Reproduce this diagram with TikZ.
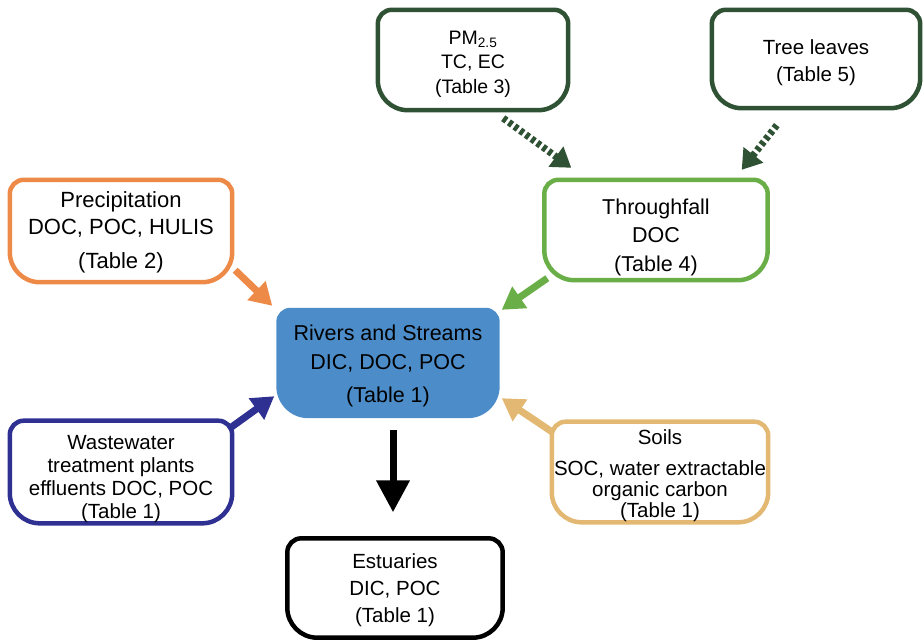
\documentclass[tikz,border=0pt]{standalone}
\usepackage{fontspec}
\setmainfont{Liberation Sans}
\usetikzlibrary{arrows.meta,backgrounds}

\definecolor{leafgreen}{RGB}{47,82,52}
\definecolor{preccol}{RGB}{238,138,72}
\definecolor{thrcol}{RGB}{106,174,71}
\definecolor{rivercol}{RGB}{76,141,201}
\definecolor{wastecol}{RGB}{46,49,146}
\definecolor{soilcol}{RGB}{226,184,114}

\begin{document}
\begin{tikzpicture}[x=1pt, y=1pt,
  box/.style={align=center, inner sep=0pt, font=\fontsize{20.5}{27}\selectfont},
  boxline/.style={line width=4.5pt},
  feed/.style={line width=7pt, -{Triangle[width=25pt,length=22pt]}},
  dashfeed/.style={line width=7pt, dash pattern=on 4pt off 3pt, -{Triangle[width=24pt,length=19pt]}},
  outflow/.style={line width=7pt, -{Triangle[width=32pt,length=32pt]}}]
  \useasboundingbox (0,0) rectangle (923,-642);

  % sources and sinks
  \node[box, minimum width=190pt, minimum height=100pt, font=\fontsize{19.5}{24.5}\selectfont] (pm) at (473,-60) {\rule{0pt}{22pt}PM\textsubscript{2.5}\\TC, EC\\(Table 3)};
  \node[box, minimum width=208pt, minimum height=98pt] (tree) at (816,-59) {\rule{0pt}{23pt}Tree leaves\\(Table 5)};
  \node[box, minimum width=222pt, minimum height=102pt, font=\fontsize{22}{27}\selectfont] (prec) at (121,-231) {\rule{0pt}{18pt}Precipitation\\DOC, POC, HULIS\\[7pt](Table 2)};
  \node[box, minimum width=223pt, minimum height=100pt, font=\fontsize{21.5}{28.5}\selectfont] (thr) at (656,-230) {\rule{0pt}{29.5pt}Throughfall\\DOC\\(Table 4)};
  \node[box, minimum width=223pt, minimum height=110pt, font=\fontsize{21.5}{29}\selectfont] (river) at (388,-363) {\rule{0pt}{21.5pt}Rivers and Streams\\DIC, DOC, POC\\[4pt](Table 1)};
  \node[box, minimum width=222pt, minimum height=101pt, font=\fontsize{20.5}{23}\selectfont] (waste) at (121,-472) {\rule{0pt}{29pt}Wastewater\\treatment plants\\effluents DOC, POC\\(Table 1)};
  \node[box, minimum width=216pt, minimum height=100pt, font=\fontsize{20.5}{21}\selectfont] (soils) at (660,-472) {\rule{0pt}{23pt}Soils\\[10pt]SOC, water extractable\\organic carbon\\(Table 1)};
  \node[box, minimum width=215pt, minimum height=99pt] (est) at (395,-588) {\rule{0pt}{19pt}Estuaries\\DIC, POC\\(Table 1)};

  % box outlines
  \begin{scope}[on background layer]
    \foreach \n/\c in {pm/leafgreen, tree/leafgreen, prec/preccol, thr/thrcol, waste/wastecol, soils/soilcol, est/black}
      \draw[boxline, \c] (\n.north) [rounded corners=14pt] -- (\n.north east) [rounded corners=30pt] -- (\n.south east) -- (\n.south west) [rounded corners=14pt] -- (\n.north west) -- cycle;
    \fill[rivercol] (river.north) [rounded corners=14pt] -- (river.north east) [rounded corners=32pt] -- (river.south east) -- (river.south west) [rounded corners=14pt] -- (river.north west) -- cycle;
  \end{scope}

  % fluxes
  \draw[dashfeed, leafgreen] ([shift={(-65,-8)}]pm.south east) -- ([shift={(27,12)}]thr.north west);
  \draw[dashfeed, leafgreen] ([shift={(65,-17)}]tree.south west) -- ([shift={(-26,10)}]thr.north east);
  \draw[feed, preccol] ([shift={(3,12)}]prec.south east) -- ([shift={(-4,2)}]river.north west);
  \draw[feed, thrcol] ([shift={(3,2)}]thr.south west) -- ([shift={(2,-2)}]river.north east);
  \draw[feed, wastecol] ([shift={(-3,-8)}]waste.north east) -- ([shift={(-2,22)}]river.south west);
  \draw[feed, soilcol] ([shift={(0,-10)}]soils.north west) -- ([shift={(2,20)}]river.south east);
  \draw[outflow, black] ([shift={(5,-12)}]river.south) -- ([shift={(-2,26)}]est.north);
\end{tikzpicture}
\end{document}
